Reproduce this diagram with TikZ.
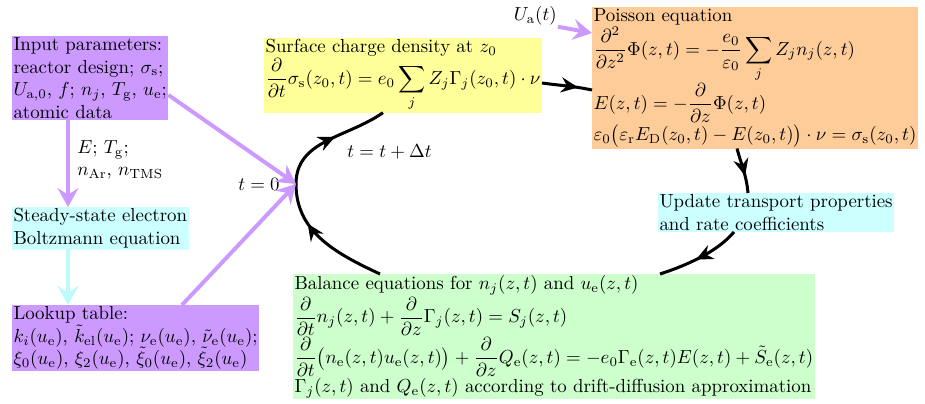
\documentclass[tikz,border=0pt]{standalone}
\usepackage{amsmath}
\usetikzlibrary{arrows.meta,calc,decorations.markings}
\definecolor{purp}{RGB}{204,153,255}
\definecolor{yel}{RGB}{255,255,153}
\definecolor{ora}{RGB}{253,204,153}
\definecolor{cya}{RGB}{204,255,255}
\definecolor{gre}{RGB}{204,255,204}
\definecolor{cyarrow}{RGB}{190,250,250}
\begin{document}
\begin{tikzpicture}[x=0.53pt,y=0.53pt,
  box/.style={anchor=north west, align=left, inner sep=0.8pt, outer sep=0pt},
  lbl/.style={inner sep=0.5pt, align=left},
  purparrow/.style={line width=2.1pt, draw=purp, -{Stealth[length=10pt,width=11pt,inset=3.5pt]}},
  cyanarrow/.style={line width=2.1pt, draw=cyarrow, -{Stealth[length=10pt,width=11pt,inset=3.5pt]}},
  loopline/.style={line width=1.6pt, draw=black},
  midarrow/.style={postaction={decorate}, decoration={markings, mark=at position #1 with {\arrow{Stealth[length=9pt,width=8pt,inset=3pt]}}}}
]
\useasboundingbox (0,0) rectangle (925,-404);

\node[box, fill=purp] (input) at (12,-36) {Input parameters:\\ reactor design; $\sigma_\mathrm{s}$;\\ $U_{\mathrm{a},0}$, $f$; $n_j$, $T_\mathrm{g}$, $u_\mathrm{e}$;\\ atomic data};
\node[box, fill=cya] (steady) at (12,-207) {Steady-state electron\\ Boltzmann equation};
\node[box, fill=purp] (lookup) at (12,-305) {Lookup table:\\ $k_i(u_\mathrm{e})$, $\tilde{k}_\mathrm{el}(u_\mathrm{e})$; $\nu_\mathrm{e}(u_\mathrm{e})$, $\tilde{\nu}_\mathrm{e}(u_\mathrm{e})$;\\ $\xi_0(u_\mathrm{e})$, $\xi_2(u_\mathrm{e})$, $\tilde{\xi}_0(u_\mathrm{e})$, $\tilde{\xi}_2(u_\mathrm{e})$};
\node[box, fill=yel] (yellow) at (264,-38) {Surface charge density at $z_0$\\ $\displaystyle\frac{\partial}{\partial t}\sigma_\mathrm{s}(z_0,t) = e_0\sum_j Z_j\Gamma_j(z_0,t)\cdot\nu$};
\node[box, fill=ora] (orange) at (592,-7) {Poisson equation\\ $\displaystyle\frac{\partial^2}{\partial z^2}\Phi(z,t) = -\frac{e_0}{\varepsilon_0}\sum_j Z_j n_j(z,t)$\\ $\displaystyle E(z,t) = -\frac{\partial}{\partial z}\Phi(z,t)$\\ $\varepsilon_0\bigl(\varepsilon_\mathrm{r}E_\mathrm{D}(z_0,t) - E(z_0,t)\bigr)\cdot\nu = \sigma_\mathrm{s}(z_0,t)$};
\node[box, fill=cya] (update) at (658,-193) {Update transport properties\\ and rate coefficients};
\node[box, fill=gre] (green) at (293,-274) {Balance equations for $n_j(z,t)$ and $u_\mathrm{e}(z,t)$\\ $\displaystyle\frac{\partial}{\partial t}n_j(z,t) + \frac{\partial}{\partial z}\Gamma_j(z,t) = S_j(z,t)$\\ $\displaystyle\frac{\partial}{\partial t}\bigl(n_\mathrm{e}(z,t)u_\mathrm{e}(z,t)\bigr) + \frac{\partial}{\partial z}Q_\mathrm{e}(z,t) = -e_0\Gamma_\mathrm{e}(z,t)E(z,t) + \tilde{S}_\mathrm{e}(z,t)$\\ $\Gamma_j(z,t)$ and $Q_\mathrm{e}(z,t)$ according to drift-diffusion approximation};

\node[lbl, anchor=west] (elbl) at (76,-160) {$E$; $T_\mathrm{g}$;\\ $n_\mathrm{Ar}$, $n_\mathrm{TMS}$};
\node[lbl, anchor=east] (tzero) at (281,-184) {$t=0$};
\node[lbl, anchor=west] (tstep) at (346,-152) {$t=t+\Delta t$};
\node[lbl, anchor=east] (ua) at (558,-16) {$U_\mathrm{a}(t)$};
\coordinate (t0) at (296,-184);

% loop
\draw[loopline, midarrow=0.72] (yellow.east |- 0,-83) to[out=-8,in=168] (orange.west |- 0,-90);
\draw[loopline, midarrow=0.62] (orange.south -| 737,0) to[out=-75,in=95] (update.north -| 748,0);
\draw[loopline, midarrow=0.55] (update.south -| 734,0) to[out=-130,in=18, looseness=0.8] (green.north -| 660,0);
\draw[loopline, midarrow=0.68] (green.north -| 380,0) to[out=155,in=-90] (t0);
\draw[loopline, midarrow=0.55] (t0) to[out=90,in=-145] (yellow.south -| 383,0);

% inputs
\draw[purparrow] (input.east |- 0,-95) -- (t0);
\draw[purparrow] (lookup.north -| 182,0) -- (t0);
\draw[purparrow] (input.south -| 68,0) -- (steady.north -| 68,0);
\draw[cyanarrow] (steady.south -| 68,0) -- (lookup.north -| 68,0);
\draw[purparrow] (ua.south east) -- (orange.west |- 0,-33);
\end{tikzpicture}
\end{document}
